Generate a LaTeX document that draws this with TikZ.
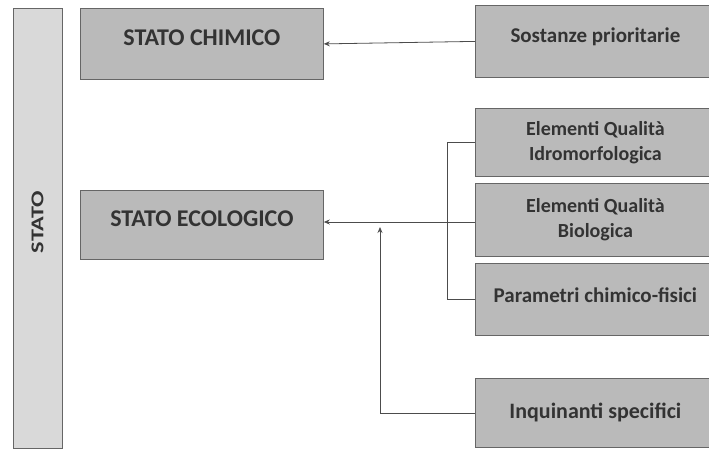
\documentclass[tikz,border=0pt]{standalone}
\usepackage{fontspec}
\setmainfont{Carlito}
\usetikzlibrary{arrows.meta}
\begin{document}
\begin{tikzpicture}[x=1pt,y=-1pt,
  box/.style={draw=black!60,line width=0.8pt,fill=black!27,inner sep=0pt,anchor=north west,text=black!80,font=\bfseries},
  conn/.style={draw=black!70,line width=0.8pt},
  arr/.style={conn,-{Stealth[length=6pt,width=5pt]}}]
\useasboundingbox (0,0) rectangle (709,450);
\node[box,fill=black!15,minimum width=49pt,minimum height=440pt] (stato) at (13,8) {};
\node[rotate=90,xscale=1.35,font=\bfseries\fontsize{18}{20}\selectfont,text=black!80] (statot) at (37.5,222) {STATO};
\node[box,minimum width=243pt,minimum height=71pt,text depth=12pt,font=\bfseries\fontsize{24}{26}\selectfont] (chim) at (80,8) {STATO CHIMICO};
\node[box,minimum width=243pt,minimum height=69pt,text depth=12pt,font=\bfseries\fontsize{24}{26}\selectfont] (eco) at (80,190) {STATO ECOLOGICO};
\node[box,minimum width=240pt,minimum height=72pt,text depth=12pt,font=\bfseries\fontsize{21}{24}\selectfont] (sost) at (475,5) {Sostanze prioritarie};
\node[box,minimum width=240pt,minimum height=68pt,align=center,font=\bfseries\fontsize{20}{25}\selectfont] (idro) at (475,108) {Elementi Qualità\\Idromorfologica};
\node[box,minimum width=240pt,minimum height=73pt,align=center,font=\bfseries\fontsize{20}{25}\selectfont] (bio) at (475,183) {Elementi Qualità\\Biologica};
\node[box,minimum width=240pt,minimum height=72pt,text depth=8pt,font=\bfseries\fontsize{21}{24}\selectfont] (param) at (475,263) {Parametri chimico-fisici};
\node[box,minimum width=240pt,minimum height=69pt,font=\bfseries\fontsize{22}{24}\selectfont] (inq) at (475,378) {Inquinanti specifici};
\coordinate (jx) at (447,222);
\coordinate (ix) at (380,227);
\draw[arr] (sost.west) -- (chim.east);
\draw[arr] (bio.west |- jx) -- (eco.east |- jx);
\draw[conn] (idro.west) -| (jx);
\draw[conn] (param.west) -| (jx);
\draw[arr] (inq.west) -| (ix);
\end{tikzpicture}
\end{document}
